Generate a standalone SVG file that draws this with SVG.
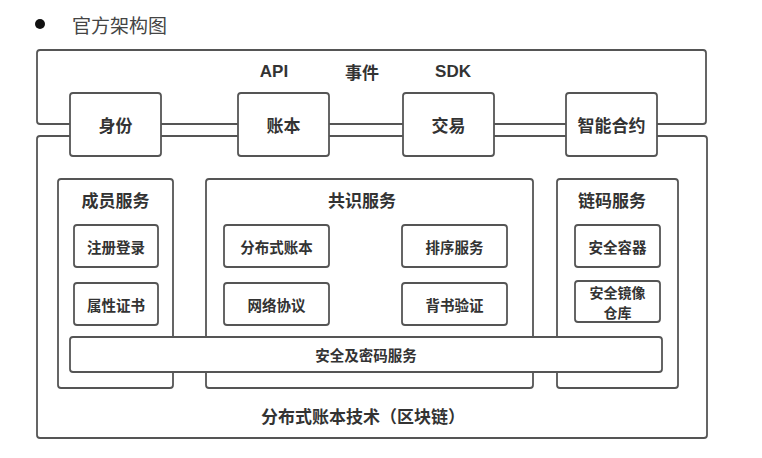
<svg xmlns="http://www.w3.org/2000/svg" width="762" height="458" viewBox="0 0 762 458">
<style>
.f{fill:#fff;stroke:#555;stroke-width:1.8}
.t{font-family:"Noto Sans CJK SC","Liberation Sans",sans-serif;fill:#333;text-anchor:middle;dominant-baseline:central}
.b{font-weight:bold;font-size:17px}
.s{font-weight:bold;font-size:14.5px}
</style>
<rect width="762" height="458" fill="#fff"/>
<g id="title">
<circle cx="40" cy="24" r="5" fill="#111"/>
<text x="72" y="24.5" class="t" style="text-anchor:start;font-size:19px;fill:#444">官方架构图</text>
</g>
<g id="top-frame">
<rect class="f" x="37" y="50" width="669" height="74" rx="3"/>
<text class="t b" x="274" y="71" style="font-family:'Liberation Sans',sans-serif">API</text>
<text class="t b" x="362" y="71">事件</text>
<text class="t b" x="453" y="71" style="font-family:'Liberation Sans',sans-serif">SDK</text>
</g>
<g id="ledger-frame">
<rect class="f" x="37" y="136" width="670" height="302" rx="3"/>
<text class="t b" x="363" y="415">分布式账本技术（区块链）</text>
</g>
<g id="connectors"></g>
<g id="n-identity"><rect class="f" x="70" y="93" width="91" height="63" rx="3"/><text class="t b" x="115.5" y="124.5">身份</text></g>
<g id="n-account"><rect class="f" x="238" y="93" width="91" height="63" rx="3"/><text class="t b" x="283.5" y="124.5">账本</text></g>
<g id="n-trade"><rect class="f" x="403" y="93" width="91" height="63" rx="3"/><text class="t b" x="448.5" y="124.5">交易</text></g>
<g id="n-contract"><rect class="f" x="566" y="93" width="91" height="63" rx="3"/><text class="t b" x="611.5" y="124.5">智能合约</text></g>
<g id="member">
<rect class="f" x="58" y="179" width="115" height="209" rx="3"/>
<text class="t b" x="115.5" y="199">成员服务</text>
</g>
<g id="consensus">
<rect class="f" x="206" y="179" width="327" height="209" rx="3"/>
<text class="t b" x="362" y="199">共识服务</text>
</g>
<g id="chaincode">
<rect class="f" x="557" y="179" width="121" height="209" rx="3"/>
<text class="t b" x="612" y="199">链码服务</text>
</g>
<g id="n-register"><rect class="f" x="74" y="225" width="84" height="42" rx="3"/><text class="t s" x="116" y="246">注册登录</text></g>
<g id="n-cert"><rect class="f" x="74" y="283" width="84" height="42" rx="3"/><text class="t s" x="116" y="304">属性证书</text></g>
<g id="n-dledger"><rect class="f" x="224" y="225" width="105" height="42" rx="3"/><text class="t s" x="276.5" y="246">分布式账本</text></g>
<g id="n-network"><rect class="f" x="224" y="283" width="105" height="42" rx="3"/><text class="t s" x="276.5" y="304">网络协议</text></g>
<g id="n-order"><rect class="f" x="402" y="225" width="105" height="42" rx="3"/><text class="t s" x="454.5" y="246">排序服务</text></g>
<g id="n-endorse"><rect class="f" x="402" y="283" width="105" height="42" rx="3"/><text class="t s" x="454.5" y="304">背书验证</text></g>
<g id="n-container"><rect class="f" x="575" y="225" width="85" height="42" rx="3"/><text class="t s" x="617.5" y="246">安全容器</text></g>
<g id="n-registry"><rect class="f" x="575" y="281" width="85" height="41" rx="3"/><text class="t s" x="617.5" y="292" style="font-size:14px">安全镜像</text><text class="t s" x="617.5" y="312" style="font-size:14px">仓库</text></g>
<g id="n-security"><rect class="f" x="70" y="337" width="592" height="35" rx="3"/><text class="t s" x="366" y="354.5">安全及密码服务</text></g>
</svg>
